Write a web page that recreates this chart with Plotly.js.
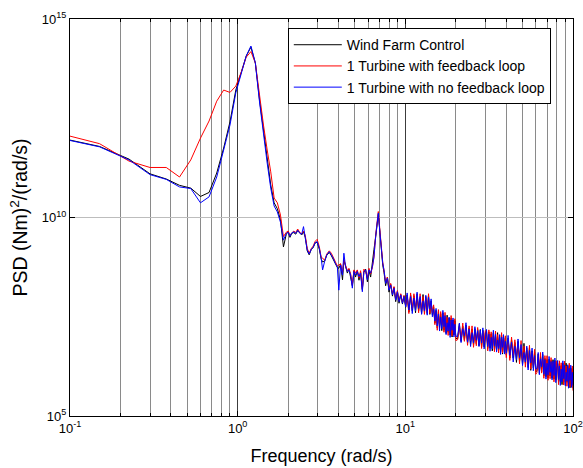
<!DOCTYPE html>
<html>
<head>
<meta charset="utf-8">
<script src="https://cdn.plot.ly/plotly-3.0.1.min.js"></script>
<style>html,body{margin:0;padding:0;background:#fff;}#chart{width:583px;height:468px;}</style>
</head>
<body>
<div id="chart"></div>
<script>
// Frequencies (rad/s)
const freqLow = [0.1,0.15,0.225,0.3,0.375,0.45,0.525,0.6,0.675,0.75,0.825,0.9,0.975,1.05,1.125,1.2,1.275,1.35,1.425,1.5,1.575,1.65,1.725,1.8,1.875];
const freqMid = [1.95,2.0,2.05,2.1,2.16,2.22,2.28,2.35,2.41,2.47,2.53,2.6,2.67,2.75,2.82,2.9,2.98,3.07,3.15,3.21,3.3,3.4,3.52,3.62,3.72,3.82,3.93,4.01,4.11,4.22,4.3,4.4,4.51,4.61,4.72,4.83,4.94,5.05,5.17,5.29,5.41,5.54,5.66,5.8,5.94,6.07,6.21,6.36,6.5,6.65,6.81,6.9,7.06,7.2,7.33,7.46,7.63,7.82,7.99,8.18,8.38,8.56,8.76,8.97,9.17,9.39,9.61,9.82,10.05];
const freqHigh = [10.25,10.5,10.75,11,11.25,11.5,11.75,12,12.25,12.5,12.75,13,13.25,13.5,13.75,14,14.25,14.5,14.75,15,15.25,15.5,15.75,16,16.25,16.5,16.75,17,17.25,17.5,17.75,18,18.25,18.5,18.75,19,19.25,19.5,19.75,20,
20.5,21,21.5,22,22.5,23,23.5,24,24.5,25,25.5,26,26.5,27,27.5,28,28.5,29,29.5,30,30.5,31,31.5,32,32.5,33,33.5,34,34.5,35,35.5,36,36.5,37,37.5,38,38.5,39,39.5,40,
41,42,43,44,45,46,47,48,49,50,51,52,53,54,55,56,57,58,59,60,61,62,63,64,65,66,67,68,69,70,71,72,73,74,75,76,77,78,79,80,81,82,83,84,85,86,87,88,89,90,91,92,93,94,95,96,97,98,99,100];

// log10 of PSD values, (Nm)^2/(rad/s)
const wfcLow = [11.95,11.79,11.47,11.10,10.97,10.81,10.74,10.53,10.63,11.12,11.75,12.41,13.21,13.66,14.07,14.29,13.89,12.96,12.20,11.45,10.82,10.37,10.22,9.94,9.26];
const wfcMid = [9.58,9.64,9.50,9.60,9.62,9.58,9.67,9.60,9.56,9.64,9.50,9.16,9.06,9.20,9.24,9.36,9.38,9.20,8.95,8.88,8.90,9.05,9.12,9.04,8.95,8.84,8.74,8.72,8.82,8.43,8.92,8.78,8.60,8.70,8.52,8.28,8.66,8.50,8.66,8.42,8.62,8.18,8.62,8.70,8.38,8.66,8.50,8.80,9.20,9.50,9.82,10.08,9.62,9.08,8.80,8.62,8.28,8.50,8.12,8.32,8.02,8.24,7.88,8.14,7.84,8.06,7.82,8.02,7.74];
const wfcHigh = [8.05,7.62,8.05,7.65,8.03,7.60,8.08,7.65,7.97,7.58,8.06,7.63,8.01,7.58,8.04,7.56,7.90,7.55,7.75,7.34,
7.66,7.22,7.63,7.22,7.58,7.15,7.60,7.16,7.47,7.08,7.54,7.11,7.47,7.04,7.47,6.99,7.42,7.04,7.40,6.96,
6.94,7.32,6.88,7.26,6.91,7.29,6.84,7.22,6.81,7.19,6.79,7.20,6.82,7.18,6.77,7.18,6.75,7.16,6.74,7.10,
7.13,6.70,7.12,6.71,7.07,6.64,7.10,6.67,7.00,6.64,7.10,6.67,7.03,6.61,7.04,6.56,7.00,6.61,6.97,6.53,
6.96,6.46,6.92,6.46,6.85,6.35,6.88,6.38,6.74,6.30,6.83,6.33,6.72,6.22,6.72,6.15,6.64,6.21,6.61,6.11,
6.14,6.56,6.07,6.50,6.11,6.55,6.01,6.45,5.99,6.42,5.96,6.43,6.01,6.40,5.95,6.42,5.93,6.40,5.91,6.31,
6.33,5.85,6.32,5.87,6.27,5.79,6.33,5.85,6.22,5.79,6.33,5.85,6.25,5.76,6.27,5.71,6.21,5.79,6.19,5.70];

const fbLow = [12.05,11.86,11.42,11.26,11.26,11.02,11.45,12.00,12.43,12.93,13.21,13.15,13.31,13.66,14.04,14.18,13.89,13.04,12.33,11.70,11.15,10.49,10.37,10.06,9.52];
const fbMid = [9.63,9.66,9.56,9.62,9.66,9.62,9.71,9.62,9.59,9.66,9.55,9.22,9.10,9.22,9.28,9.40,9.45,9.26,9.00,8.98,8.92,9.08,9.16,9.10,8.98,8.88,8.78,8.80,8.84,8.60,8.95,8.80,8.66,8.72,8.58,8.30,8.68,8.60,8.68,8.48,8.66,8.20,8.70,8.64,8.48,8.72,8.58,8.74,9.00,9.55,9.88,10.15,9.66,9.12,8.88,8.66,8.36,8.50,8.20,8.34,8.08,8.26,7.94,8.16,7.90,8.08,7.86,8.04,7.78];
const fbHigh = [8.03,7.58,8.10,7.69,8.08,7.71,8.05,7.60,8.08,7.65,8.01,7.56,7.97,7.63,8.08,7.58,7.88,7.59,7.80,7.30,
7.63,7.16,7.68,7.28,7.63,7.29,7.58,7.11,7.61,7.16,7.49,7.03,7.41,7.09,7.53,7.02,7.39,7.10,7.45,6.90,
6.92,7.26,6.93,7.34,6.88,7.24,6.78,7.27,6.89,7.27,6.73,7.11,6.77,7.23,6.83,7.13,6.70,7.14,6.83,7.15,
7.10,6.64,7.17,6.77,7.12,6.78,7.08,6.62,7.14,6.72,7.05,6.59,6.97,6.66,7.10,6.59,6.97,6.67,7.02,6.47,
6.93,6.40,6.99,6.52,6.92,6.51,6.84,6.31,6.90,6.40,6.76,6.23,6.66,6.29,6.78,6.18,6.61,6.27,6.68,6.05,
6.10,6.50,6.14,6.60,6.08,6.48,5.95,6.52,6.09,6.52,5.90,6.34,5.94,6.47,6.01,6.35,5.86,6.36,6.00,6.38,
6.30,5.79,6.39,5.93,6.34,5.95,6.29,5.78,6.38,5.89,6.26,5.75,6.19,5.83,6.33,5.74,6.18,5.85,6.26,5.64];

const nofbLow = [11.94,11.78,11.45,11.08,10.96,10.77,10.73,10.37,10.52,11.02,11.70,12.33,13.14,13.66,14.07,14.32,13.89,12.91,12.08,11.37,10.74,10.29,10.14,9.88,9.43];
const nofbMid = [9.60,9.63,9.53,9.61,9.64,9.60,9.68,9.60,9.58,9.77,9.52,9.18,9.08,9.20,9.25,9.37,9.39,9.22,8.97,8.68,8.89,9.06,9.14,9.06,8.97,8.85,8.76,8.17,8.80,8.55,9.10,8.76,8.64,8.68,8.55,8.22,8.64,8.55,8.64,8.51,8.60,8.13,8.64,8.68,8.43,8.68,8.60,8.76,9.01,9.52,9.85,10.11,9.60,9.10,8.85,8.68,8.34,8.47,8.17,8.30,8.05,8.22,7.92,8.13,7.88,8.05,7.84,8.01,7.75];
const nofbHigh = [8.10,7.67,8.01,7.58,7.97,7.65,8.12,7.71,8.01,7.56,7.90,7.65,8.04,7.54,7.99,7.69,7.95,7.50,7.69,7.39,
7.71,7.27,7.57,7.14,7.49,7.20,7.66,7.25,7.53,7.05,7.35,7.14,7.49,6.98,7.42,7.16,7.47,6.99,7.31,7.01,
7.00,7.34,6.85,7.20,7.02,7.35,6.86,7.19,6.75,7.10,6.84,7.25,6.91,7.15,6.75,7.16,6.84,7.22,6.69,6.99,
7.18,6.75,7.06,6.63,6.98,6.69,7.16,6.76,7.06,6.61,6.91,6.70,7.05,6.55,6.99,6.73,7.05,6.56,6.88,6.58,
7.03,6.53,6.86,6.36,6.76,6.42,6.94,6.47,6.80,6.27,6.60,6.36,6.76,6.16,6.65,6.34,6.71,6.14,6.52,6.18,
6.20,6.60,6.04,6.44,6.24,6.61,6.05,6.42,5.93,6.33,6.03,6.50,6.10,6.37,5.91,6.38,6.02,6.46,5.84,6.18,
6.40,5.92,6.26,5.77,6.18,5.86,6.39,5.94,6.28,5.76,6.10,5.88,6.29,5.70,6.20,5.90,6.28,5.72,6.10,5.77];

const seriesNames = ['Wind Farm Control','1 Turbine with feedback loop','1 Turbine with no feedback loop'];
const seriesColors = ['#000000','#ff0000','#0000ff'];

const xTickVals = [0.1,1,10,100];
const xTickText = ['10<sup>-1</sup>','10<sup>0</sup>','10<sup>1</sup>','10<sup>2</sup>'];
const xMinorVals = [0.2,0.3,0.4,0.5,0.6,0.7,0.8,0.9,2,3,4,5,6,7,8,9,20,30,40,50,60,70,80,90];
const yTickVals = [1e5,1e10,1e15];
const yTickText = ['10<sup>5</sup>','10<sup>10</sup>','10<sup>15</sup>'];

const freq = freqLow.concat(freqMid, freqHigh);
const toPsd = arr => arr.map(v => Math.pow(10, v));
const seriesLog = [
  wfcLow.concat(wfcMid, wfcHigh),
  fbLow.concat(fbMid, fbHigh),
  nofbLow.concat(nofbMid, nofbHigh)
];

const traces = seriesLog.map((s, i) => ({
  x: freq, y: toPsd(s), type: 'scatter', mode: 'lines',
  name: seriesNames[i], line: {color: seriesColors[i], width: 1}
}));

const font = 'Liberation Sans, Arial, sans-serif';
const layout = {
  width: 583, height: 468,
  margin: {l: 70, r: 10, t: 19, b: 52, pad: 0},
  paper_bgcolor: '#ffffff', plot_bgcolor: '#ffffff',
  font: {family: font, size: 13, color: '#000'},
  showlegend: true,
  xaxis: {
    type: 'log', range: [-1, 2], tickmode: 'array', tickvals: xTickVals, ticktext: xTickText,
    showgrid: true, gridcolor: '#3c3c3c', gridwidth: 1,
    ticks: 'inside', ticklen: 5, tickcolor: '#000', tickwidth: 1,
    showline: true, linecolor: '#000', linewidth: 1, mirror: 'ticks',
    tickfont: {family: font, size: 13, color: '#000'},
    minor: {tickmode: 'array', tickvals: xMinorVals, showgrid: true, gridcolor: '#8a8a8a', gridwidth: 1, ticks: 'inside', ticklen: 3, tickcolor: '#000'},
    title: {text: 'Frequency (rad/s)', font: {family: font, size: 18, color: '#000'}, standoff: 14},
    zeroline: false
  },
  yaxis: {
    type: 'log', range: [5, 15], tickmode: 'array', tickvals: yTickVals, ticktext: yTickText,
    showgrid: true, gridcolor: '#bdbdbd', gridwidth: 1,
    ticks: 'inside', ticklen: 5, tickcolor: '#000', tickwidth: 1,
    showline: true, linecolor: '#000', linewidth: 1, mirror: 'ticks',
    tickfont: {family: font, size: 13, color: '#000'},
    title: {text: 'PSD (Nm)<sup>2</sup>/(rad/s)', font: {family: font, size: 19.5, color: '#000'}, standoff: 8},
    zeroline: false
  },
  legend: {
    x: 0.433, y: 0.977, xanchor: 'left', yanchor: 'top',
    bgcolor: '#ffffff', bordercolor: '#000', borderwidth: 1,
    font: {family: font, size: 14, color: '#000'},
    itemwidth: 48, tracegroupgap: 0
  }
};

Plotly.newPlot('chart', traces, layout, {displayModeBar: false, staticPlot: true});
</script>
</body>
</html>
